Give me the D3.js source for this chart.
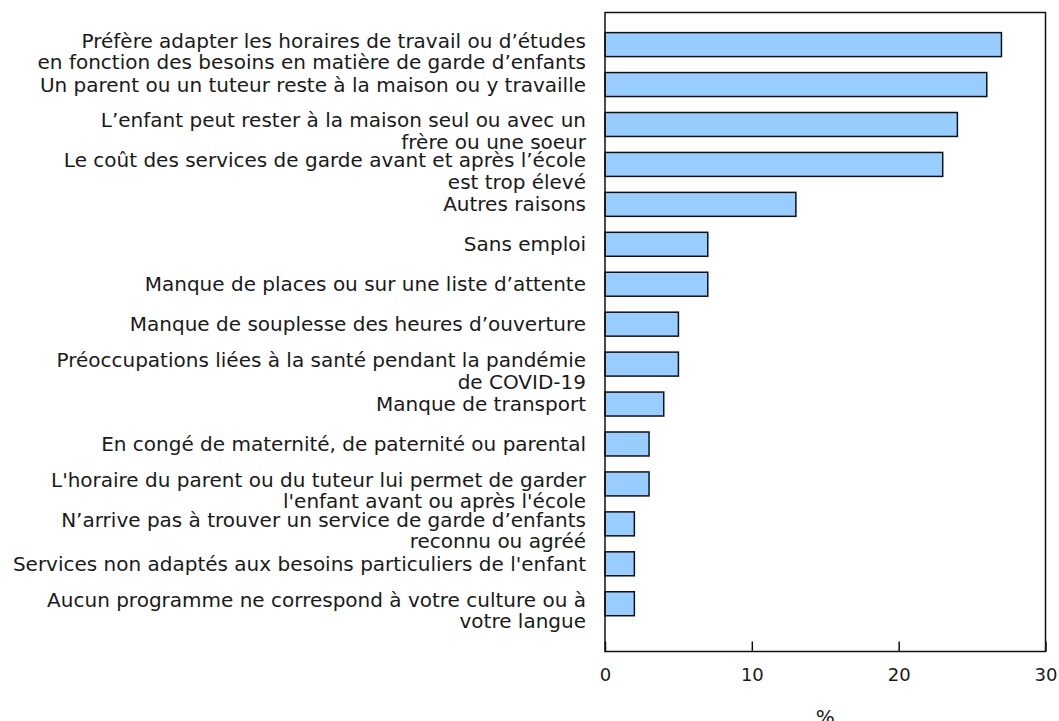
<!DOCTYPE html>
<html>
<head>
<meta charset="utf-8">
<script src="https://cdn.jsdelivr.net/npm/d3@7"></script>
<style>
  body { margin: 0; background: #fff; }
  svg { display: block; font-family: "DejaVu Sans", Verdana, sans-serif; }
</style>
</head>
<body>
<div id="chart"></div>
<script>
  // raisons (chaque entrée = lignes du libellé)
  var categories = [
    ["Préfère adapter les horaires de travail ou d’études", "en fonction des besoins en matière de garde d’enfants"],
    ["Un parent ou un tuteur reste à la maison ou y travaille"],
    ["L’enfant peut rester à la maison seul ou avec un", "frère ou une soeur"],
    ["Le coût des services de garde avant et après l’école", "est trop élevé"],
    ["Autres raisons"],
    ["Sans emploi"],
    ["Manque de places ou sur une liste d’attente"],
    ["Manque de souplesse des heures d’ouverture"],
    ["Préoccupations liées à la santé pendant la pandémie", "de COVID-19"],
    ["Manque de transport"],
    ["En congé de maternité, de paternité ou parental"],
    ["L'horaire du parent ou du tuteur lui permet de garder", "l'enfant avant ou après l'école"],
    ["N’arrive pas à trouver un service de garde d’enfants", "reconnu ou agréé"],
    ["Services non adaptés aux besoins particuliers de l'enfant"],
    ["Aucun programme ne correspond à votre culture ou à", "votre langue"]
  ];
  var values = [27, 26, 24, 23, 13, 7, 7, 5, 5, 4, 3, 3, 2, 2, 2];
  var xTicks = [0, 10, 20, 30];
  var xTitle = "%";

(function() {
  var width = 1059, height = 721;
  var mLeft = 605, mRight = 1045.5, mTop = 12.5, mBottom = 651.5;

  var svg = d3.select('#chart').append('svg')
    .attr('width', width)
    .attr('height', height);

  var x = d3.scaleLinear().domain([0, 30]).range([mLeft, mRight]);
  var y = d3.scaleBand()
    .domain(d3.range(categories.length))
    .range([mTop, mBottom])
    .paddingInner(0.4)
    .paddingOuter(0.7)
    .align(0.36);

  // barres
  svg.append('g').selectAll('rect')
    .data(values)
    .enter().append('rect')
      .attr('x', x(0))
      .attr('y', function(d, i) { return y(i); })
      .attr('width', function(d) { return x(d) - x(0); })
      .attr('height', y.bandwidth())
      .attr('fill', '#99ccff')
      .attr('stroke', '#111')
      .attr('stroke-width', 1.5);

  // libellés
  var labels = svg.append('g')
    .attr('font-size', 20)
    .attr('fill', '#1a1a1a')
    .attr('text-anchor', 'end');

  categories.forEach(function(lines, i) {
    var cy = y(i) + y.bandwidth() / 2;
    var y0 = lines.length > 1 ? cy - 4 : cy;
    var t = labels.append('text');
    lines.forEach(function(line, j) {
      t.append('tspan')
        .attr('x', mLeft - 19)
        .attr('y', y0 + j * 21.5)
        .attr('dy', '0.35em')
        .text(line);
    });
  });

  // cadre
  svg.append('rect')
    .attr('x', mLeft)
    .attr('y', mTop)
    .attr('width', mRight - mLeft)
    .attr('height', mBottom - mTop)
    .attr('fill', 'none')
    .attr('stroke', '#111')
    .attr('stroke-width', 1.5);

  // axe x
  var xAxis = d3.axisBottom(x)
    .tickValues(xTicks)
    .tickSize(-10)
    .tickPadding(17);

  var gx = svg.append('g')
    .attr('transform', 'translate(0,' + mBottom + ')')
    .call(xAxis);
  gx.select('.domain').remove();
  gx.selectAll('.tick line').attr('stroke', '#111').attr('stroke-width', 1.5);
  gx.selectAll('.tick text')
    .attr('font-family', '"DejaVu Sans", Verdana, sans-serif')
    .attr('font-size', 18)
    .attr('fill', '#1a1a1a');

  svg.append('text')
    .attr('x', (mLeft + mRight) / 2)
    .attr('y', 724)
    .attr('text-anchor', 'middle')
    .attr('font-size', 20)
    .attr('fill', '#1a1a1a')
    .text(xTitle);
})();
</script>
</body>
</html>
